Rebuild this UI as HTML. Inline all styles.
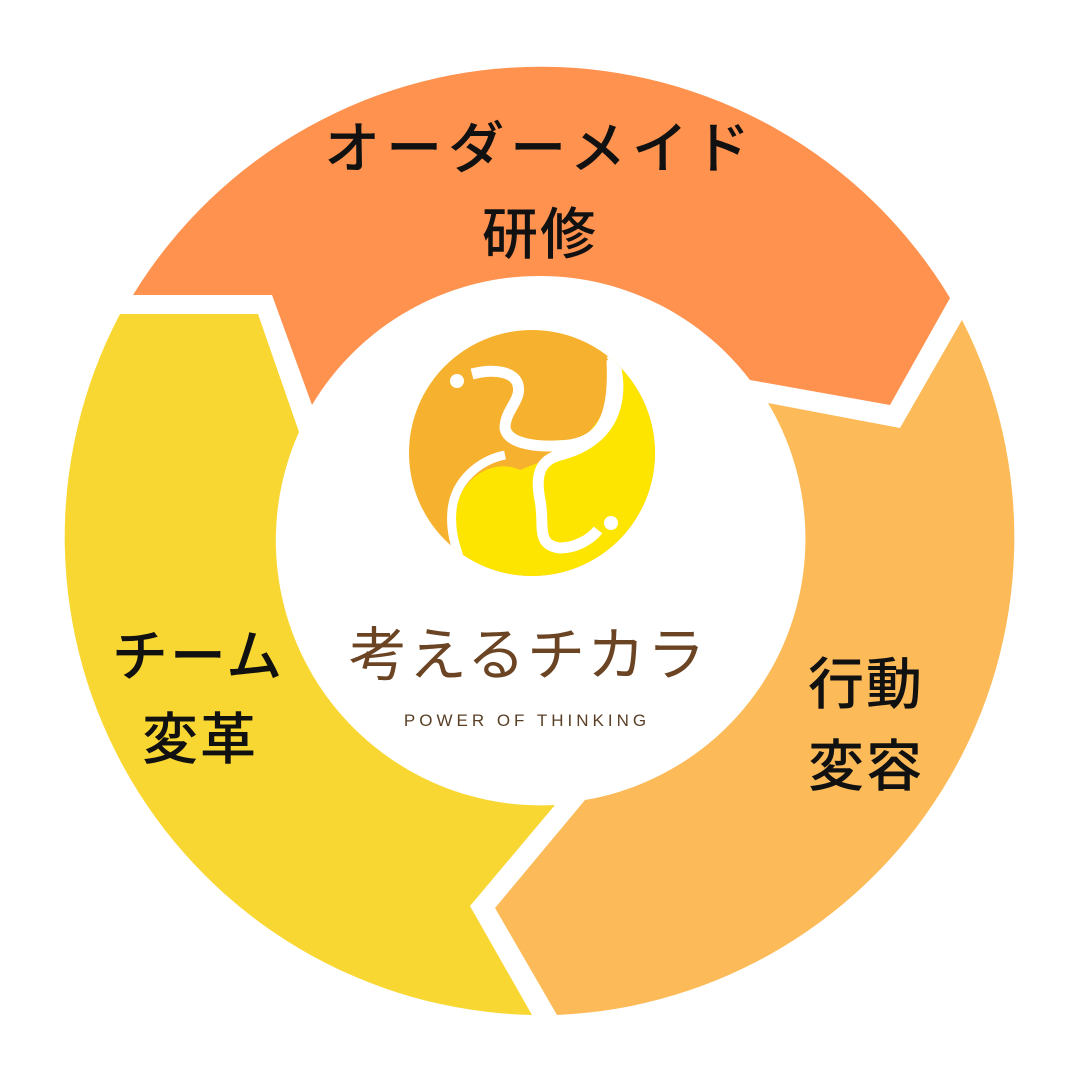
<!DOCTYPE html>
<html><head><meta charset="utf-8"><style>
html,body{margin:0;padding:0;background:#fff}
svg{display:block}
text{font-family:"Liberation Sans","Noto Sans CJK JP",sans-serif}
</style></head><body>
<svg width="1080" height="1080" viewBox="0 0 1080 1080">
<path d="M133,295 A478,478 0 0 1 950,298 L890,405 L750,380 A265,265 0 0 0 312,405 L272,295 Z" fill="#FE924E"/>
<path d="M962,320 A478,478 0 0 1 557,1015 L495,908 L585,800 A265,265 0 0 0 768,403 L900,428 Z" fill="#FCBB58"/>
<path d="M532,1015 A478,478 0 0 1 120,314 L258,314 L299,432 A265,265 0 0 0 555,805 L470,906 Z" fill="#F9D733"/>
<g font-weight="500" fill="#111" text-anchor="middle" font-size="56">
<text x="540" y="168" letter-spacing="6">オーダーメイド</text>
<text x="540" y="254" letter-spacing="2">研修</text>
<text x="198" y="676" letter-spacing="2">チーム</text>
<text x="200" y="759" letter-spacing="2">変革</text>
<text x="866" y="704" letter-spacing="2">行動</text>
<text x="866" y="786" letter-spacing="2">変容</text>
</g>
<defs><clipPath id="c"><circle cx="532" cy="453" r="123"/></clipPath></defs>
<g clip-path="url(#c)">
<rect x="400" y="320" width="270" height="270" fill="#F6B12F"/>
<path d="M612,355 C618,395 600,440 545,460 L520,470 C500,460 470,470 458,500 C450,525 455,545 455,600 L700,600 L700,330 Z" fill="#FDE500"/>
<path d="M472,374 C495,368 515,372 518,385 C522,400 505,410 505,428 C508,445 540,448 570,445 C600,440 615,420 612,360" fill="none" stroke="#fff" stroke-width="11"/>
<path d="M612,355 C625,390 620,440 560,455 C540,460 535,475 540,500 C545,525 535,545 560,548 C575,548 590,540 598,530" fill="none" stroke="#fff" stroke-width="11"/>
<path d="M505,455 C480,460 455,480 452,510 C450,530 455,545 460,560" fill="none" stroke="#fff" stroke-width="9"/>
</g>
<circle cx="457" cy="381" r="7" fill="#fff"/>
<circle cx="611" cy="523" r="7" fill="#fff"/>
<text x="528" y="675" text-anchor="middle" font-size="58" fill="#6B4423" font-weight="400" letter-spacing="2">考えるチカラ</text>
<text x="527" y="726" text-anchor="middle" font-size="17" fill="#5a3f25" letter-spacing="4">POWER OF THINKING</text>
</svg>
</body></html>
